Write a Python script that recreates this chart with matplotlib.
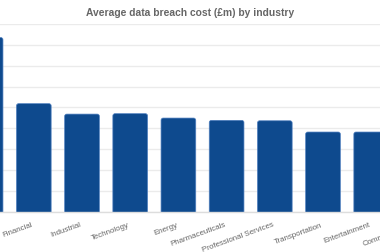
import matplotlib
matplotlib.use("Agg")
import matplotlib.pyplot as plt
from matplotlib.patches import FancyBboxPatch
import numpy as np

# Average breach cost per industry (GBP millions)
industries = ["Healthcare", "Financial", "Industrial", "Technology", "Energy",
              "Pharmaceuticals", "Professional Services", "Transportation",
              "Entertainment", "Communications"]
costs = [8.35, 5.18, 4.68, 4.70, 4.49, 4.38, 4.36, 3.82, 3.82, 3.70]

bar_color = "#0e4a8e"
grid_color = "#ebebeb"
text_color = "#666666"

plt.rcParams["font.family"] = ["Liberation Sans", "DejaVu Sans"]

fig = plt.figure(figsize=(3.8, 2.53), dpi=100)
# the source chart is cropped on both sides, so the axes run past the figure edges
ax = fig.add_axes([-0.1013, 0.1593, 1.2684, 0.7419])

index = np.arange(len(industries))
bars = ax.bar(index, costs, 0.72, color=bar_color, zorder=3)

# swap the plain rectangles for ones with rounded tops
# (the box is pushed below zero so the bottom corners get clipped off)
for rect in bars:
    x, w, h = rect.get_x(), rect.get_width(), rect.get_height()
    rounded = FancyBboxPatch((x, -0.3), w, h + 0.3,
                             boxstyle="round,pad=0,rounding_size=0.045",
                             mutation_aspect=2.3, facecolor=bar_color,
                             edgecolor="#4f7fbf", linewidth=0.5, zorder=3)
    ax.add_patch(rounded)
    rect.set_visible(False)

ax.set_xlim(-0.5, len(industries) - 0.5)
ax.set_ylim(0, 9)
ax.set_yticks(np.arange(0, 10, 1))
ax.yaxis.grid(True, color=grid_color, linewidth=1.0, zorder=0)
ax.set_yticklabels([])
ax.tick_params(axis="y", length=0)
ax.set_xticks(index)
ax.set_xticklabels(industries, rotation=20, ha="right", fontsize=5.7, color=text_color)
ax.tick_params(axis="x", length=0, pad=6.5)

for side in ("top", "left", "right"):
    ax.spines[side].set_visible(False)
ax.spines["bottom"].set_color("#dddddd")
ax.spines["bottom"].set_linewidth(1.0)
ax.spines["bottom"].set_zorder(4)

fig.text(0.5, 0.948, "Average data breach cost (£m) by industry", ha="center", va="center",
         fontsize=7.4, fontweight="bold", color=text_color)

fig.savefig("out.png", dpi=100)
